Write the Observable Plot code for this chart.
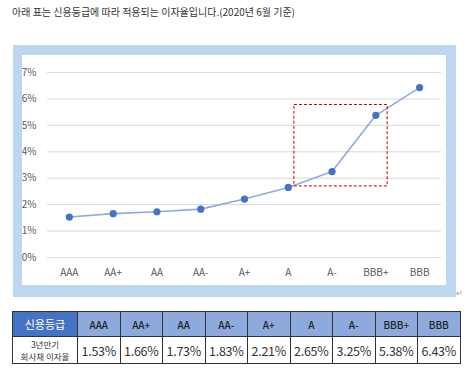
<!DOCTYPE html>
<html><head><meta charset="utf-8">
<script src="https://cdn.jsdelivr.net/npm/d3@7"></script>
<script src="https://cdn.jsdelivr.net/npm/@observablehq/plot@0.6"></script>
<style>
body{margin:0;background:#fff;font-family:"Noto Sans CJK KR","Noto Sans",sans-serif;width:470px;height:374px;position:relative;overflow:hidden}
#title{position:absolute;left:12px;top:4px;font-size:10px;color:#333;letter-spacing:0;white-space:nowrap}
#frame{position:absolute;left:13px;top:45px;width:443px;height:252px;background:#BDD7EE}
#inner{position:absolute;left:9px;top:10px;width:424px;height:230px;background:#fff}
#tbl{position:absolute;left:12px;top:311px;border-collapse:collapse;table-layout:fixed}
#tbl td{border:1px solid #333;text-align:center;padding:0;color:#222}
#tbl tr.h td{height:24px;background:#8EA9DB;font-size:10px;font-weight:500}
#tbl tr.h td.first{background:#4472C4;color:#fff;font-size:11px;font-weight:400}
#tbl tr.v td{height:26px;font-size:12.5px;letter-spacing:-0.3px;color:#333}
#tbl tr.v td.first{font-size:8.5px;line-height:12px;letter-spacing:0}
.ret{position:absolute;font-size:8px;color:#999}
</style></head><body>
<div id="title">아래 표는 신용등급에 따라 적용되는 이자율입니다.(2020년 6월 기준)</div>
<div id="frame"><div id="inner"></div></div>
<span class="ret" style="left:456px;top:287px">↵</span>
<table id="tbl"></table>
<script>
const categories = ["AAA","AA+","AA","AA-","A+","A","A-","BBB+","BBB"];
const rates = [1.53,1.66,1.73,1.83,2.21,2.65,3.25,5.38,6.43];
const yTicks = [0,1,2,3,4,5,6,7];
const boxX = [5.14, 7.27];   // category-index positions of the highlight box
const boxY = [2.69, 5.77];   // percent values of the highlight box
const headerLabel = "신용등급";
const rowLabel = ["3년만기","회사채 이자율"];

const data = categories.map((c,i)=>({i, c, v: rates[i]}));

const plot = Plot.plot({
  width: 424, height: 230,
  marginLeft: 25, marginRight: 5, marginTop: 17, marginBottom: 28,
  style: {fontFamily: '"Noto Sans CJK KR","Noto Sans",sans-serif', fontSize: "10px", color: "#595959", background: "transparent"},
  x: {type: "linear", domain: [-0.5, 8.5], ticks: d3.range(categories.length), tickFormat: i => categories[i], tickSize: 0, tickPadding: 11, label: null},
  y: {domain: [0, 7], ticks: yTicks, tickFormat: d => d + "%", tickSize: 0, tickPadding: 11, label: null},
  marks: [
    Plot.ruleY(yTicks, {stroke: "#D9D9D9", strokeWidth: 1}),
    Plot.line(data, {x: "i", y: "v", stroke: "#8FAADC", strokeWidth: 1.6}),
    Plot.dot(data, {x: "i", y: "v", r: 3.6, fill: "#4472C4", stroke: "none"}),
    Plot.rect([{x1: boxX[0], x2: boxX[1], y1: boxY[0], y2: boxY[1]}], {x1: "x1", x2: "x2", y1: "y1", y2: "y2", fill: "none", stroke: "#C00000", strokeWidth: 1, strokeDasharray: "3,2"})
  ]
});
plot.style.position = "absolute";
plot.style.left = "0px";
plot.style.top = "0px";
document.getElementById("inner").appendChild(plot);

// table
const tbl = document.getElementById("tbl");
const colW = [65].concat(categories.map(()=>42.5));
const cg = document.createElement("colgroup");
colW.forEach(w=>{const c=document.createElement("col");c.style.width=w+"px";cg.appendChild(c);});
tbl.appendChild(cg);
const r1 = document.createElement("tr"); r1.className="h";
const r2 = document.createElement("tr"); r2.className="v";
let td = document.createElement("td"); td.className="first"; td.textContent=headerLabel; r1.appendChild(td);
td = document.createElement("td"); td.className="first"; td.innerHTML=rowLabel.join("<br>"); r2.appendChild(td);
categories.forEach((c,i)=>{
  const a=document.createElement("td"); a.textContent=c; r1.appendChild(a);
  const b=document.createElement("td"); b.textContent=rates[i].toFixed(2)+"%"; r2.appendChild(b);
});
tbl.appendChild(r1); tbl.appendChild(r2);
</script>
</body></html>
